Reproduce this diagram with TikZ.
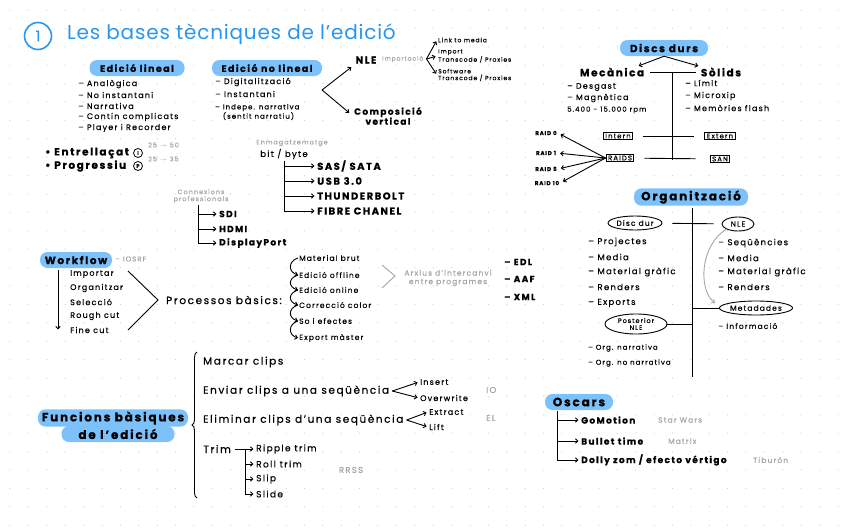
\documentclass[tikz,border=0pt]{standalone}
\usepackage{fontspec}
\setmainfont{Poppins}[LetterSpace=15, FakeBold=0.4]
\newfontfamily\titlefont{Poppins}[LetterSpace=4]
\usetikzlibrary{arrows.meta,shapes.geometric,positioning,decorations.pathreplacing}

\definecolor{titleblue}{RGB}{38,150,240}
\definecolor{pillblue}{RGB}{125,193,250}
\definecolor{notegray}{RGB}{165,165,165}
\definecolor{dotgray}{RGB}{205,205,205}

\tikzset{
  lbl/.style={inner sep=1pt, anchor=west, font=\fontsize{7}{7.5}\selectfont},
  lblm/.style={lbl, font=\fontsize{8.5}{9}\selectfont},
  lblb/.style={lbl, font=\bfseries\fontsize{9}{10}\selectfont},
  lbll/.style={lbl, font=\fontsize{10.5}{11}\selectfont},
  tinytxt/.style={lbl, align=left, font=\fontsize{6}{5.5}\selectfont},
  note/.style={inner sep=1pt, text=notegray, font=\fontsize{6.5}{7}\selectfont},
  pill/.style={fill=pillblue, rounded corners=7.5pt, inner sep=2pt, minimum height=16pt,
    font=\bfseries\fontsize{10.5}{11}\selectfont},
  circ/.style={draw, circle, line width=0.8pt, inner sep=0pt, minimum size=9pt,
    font=\bfseries\fontsize{5}{6}\selectfont},
  box/.style={draw, line width=1pt, inner xsep=2pt, inner ysep=1.5pt, font=\fontsize{7}{8}\selectfont},
  oval/.style={draw, ellipse, line width=0.9pt, inner sep=0pt, font=\fontsize{7.5}{8}\selectfont},
  ln/.style={line width=0.9pt},
  arr/.style={ln, shorten >=1.5pt, -{Straight Barb[length=2.5pt,width=4.5pt]}},
  grayarr/.style={draw=notegray, line width=0.9pt, -{Straight Barb[length=2.5pt,width=4.5pt]}},
}

\begin{document}
\begin{tikzpicture}[x=1pt,y=-1pt]
\useasboundingbox (0,0) rectangle (848,530);
% dotted paper
\foreach \i in {0,...,46}
  \foreach \j in {0,...,28}
    \fill[dotgray] (10+\i*18.4,10+\j*18.4) circle (0.6pt);

% title
\node[circ, draw=titleblue, line width=1.6pt, minimum size=27pt, text=titleblue,
  font=\fontsize{15}{15}\selectfont] (num) at (38,36) {1};
\node[anchor=west, inner sep=0pt, text=titleblue, font=\titlefont\fontsize{20}{21}\selectfont] (title) at (67,34) {Les bases tècniques de l’edició};

% edicio lineal
\node[pill, minimum width=95pt, font=\bfseries\fontsize{9.5}{10}\selectfont] (lineal) at (137,68) {Edició lineal};
\node[lbl, font=\fontsize{8}{8.5}\selectfont] (lin1) at (77,84) {– Analògica};
\node[lbl, font=\fontsize{8}{8.5}\selectfont] (lin2) at (77,95) {– No instantani};
\node[lbl, font=\fontsize{8}{8.5}\selectfont] (lin3) at (77,106) {– Narrativa};
\node[lbl, font=\fontsize{8}{8.5}\selectfont] (lin4) at (77,117) {– Contin complicats};
\node[lbl, font=\fontsize{8}{8.5}\selectfont] (lin5) at (77,128) {– Player i Recorder};

% edicio no lineal
\node[pill, minimum width=110pt, font=\bfseries\fontsize{9.5}{10}\selectfont] (nolineal) at (267,68) {Edició no lineal};
\node[lbl, font=\fontsize{8}{8.5}\selectfont] (nol1) at (214,82) {– Digitalització};
\node[lbl, font=\fontsize{8}{8.5}\selectfont] (nol2) at (214,94) {– Instantani};
\node[lbl, align=left, font=\fontsize{7}{7}\selectfont] (nol3) at (214,112) {– Indepe. narrativa\\\phantom{– }(sentit narratiu)};
\coordinate (chev) at (322,90);
\node[lblb, anchor=center, font=\bfseries\fontsize{10}{11}\selectfont] (nle) at (366,60) {NLE};
\node[lblb, anchor=center, align=center] (compo) at (388,116) {Composició\\vertical};
\draw[arr, shorten >=4pt] (chev) -- (nle.south west);
\draw[arr, shorten >=5pt] (chev) -- (compo.west);
\node[note, anchor=west, font=\fontsize{6}{7}\selectfont] (import) at (381,59) {Importació};
\coordinate (impfork) at ([xshift=2pt]import.east);
\node[tinytxt] (link) at (437,40) {Link to media};
\node[tinytxt] (imptr) at (437,56) {Import\\Transcode / Proxies};
\node[tinytxt] (softw) at (437,75) {Software\\Transcode / Proxies};
\draw[arr] (impfork) -- (link.west);
\draw[arr] (impfork) -- (imptr.west);
\draw[arr] (impfork) -- (softw.west);

% escaneig
\node[lblb, font=\bfseries\fontsize{10.5}{11}\selectfont] (entre) at (44,153) {• Entrellaçat};
\node[circ] (ci) at (138,153) {I};
\node[note, anchor=west] (entrenum) at (147,145) {25 $\to$ 50};
\node[lblb, font=\bfseries\fontsize{10.5}{11}\selectfont] (progr) at (44,166) {• Progressiu};
\node[circ] (cp) at (138,166) {P};
\node[note, anchor=west] (prognum) at (147,159) {25 $\to$ 35};

% emmagatzematge
\node[note] (emmag) at (292,143) {Enmagatzematge};
\node[lblm, anchor=center] (bitbyte) at (284,154) {bit / byte};
\coordinate (stor) at (284,161);
\node[lblb, font=\bfseries\fontsize{10}{11}\selectfont] (sas) at (316,166) {SAS/ SATA};
\node[lblb, font=\bfseries\fontsize{10}{11}\selectfont] (usb) at (316,181) {USB 3.0};
\node[lblb, font=\bfseries\fontsize{10}{11}\selectfont] (thund) at (316,196) {THUNDERBOLT};
\node[lblb, font=\bfseries\fontsize{10}{11}\selectfont] (fibre) at (316,211) {FIBRE CHANEL};
\draw[ln] (stor) -- (stor |- fibre.west);
\foreach \n in {sas,usb,thund,fibre}
  \draw[arr] (stor |- \n.west) -- (\n.west);

% connexions
\node[note, align=center] (connex) at (201,196) {Connexions\\professionals};
\coordinate (conn) at (198,205);
\node[lblb] (sdi) at (218,214) {SDI};
\node[lblb] (hdmi) at (218,229) {HDMI};
\node[lblb] (dport) at (218,243) {DisplayPort};
\draw[ln] (conn) -- (conn |- dport.west);
\foreach \n in {sdi,hdmi,dport}
  \draw[arr] (conn |- \n.west) -- (\n.west);

% workflow
\node[pill, minimum width=72pt] (workflow) at (76,260) {Workflow};
\node[note, anchor=west, font=\fontsize{7}{8}\selectfont] (iosrf) at (114,259) {– IOSRF};
\coordinate (wftop) at (58,270);
\coordinate (wfbot) at (58,331);
\draw[arr] (wftop) -- (wfbot);
\node[lbl, font=\fontsize{8}{9}\selectfont] (w1) at (69,274) {Importar};
\node[lbl, font=\fontsize{8}{9}\selectfont] (w2) at (69,288) {Organitzar};
\node[lbl, font=\fontsize{8}{9}\selectfont] (w3) at (69,302) {Selecció};
\node[lbl, font=\fontsize{8}{9}\selectfont] (w4) at (69,316) {Rough cut};
\node[lbl, font=\fontsize{8}{9}\selectfont] (w5) at (69,330) {Fine cut};
\coordinate (wfa) at (128,271);
\coordinate (wfapex) at (158,300);
\coordinate (wfb) at (128,330);
\draw[ln] (wfa) -- (wfapex) -- (wfb);
\node[lbll] (proc) at (165,300) {Processos bàsics:};

% processos
\node[lbl, font=\fontsize{7.5}{8}\selectfont] (p1) at (298,258) {Material brut};
\node[lbl, font=\fontsize{7.5}{8}\selectfont] (p2) at (298,275) {Edició offline};
\node[lbl, font=\fontsize{7.5}{8}\selectfont] (p3) at (298,290) {Edició online};
\node[lbl, font=\fontsize{7.5}{8}\selectfont] (p4) at (298,305) {Correcció color};
\node[lbl, font=\fontsize{7.5}{8}\selectfont] (p5) at (298,321) {So i efectes};
\node[lbl, font=\fontsize{7.5}{8}\selectfont] (p6) at (298,338) {Export màster};
\foreach \a/\b in {p1/p2,p2/p3,p3/p4,p4/p5,p5/p6}
  \draw[arr, shorten >=0pt] (\a.west) .. controls +(-10,3) and +(-10,-3) .. (\b.west);
\coordinate (gv1) at (382,265);
\coordinate (gv2) at (395,276);
\coordinate (gv3) at (382,288);
\draw[draw=notegray, line width=0.9pt] (gv1) -- (gv2) -- (gv3);
\node[note, align=center, font=\fontsize{7.5}{8.5}\selectfont] (arxius) at (448,278) {Arxius d’intercanvi\\entre programes};
\node[lblb] (edl) at (503,262) {– EDL};
\node[lblb] (aaf) at (503,279) {– AAF};
\node[lblb] (xml) at (503,297) {– XML};

% funcions basiques
\node[pill, minimum width=113pt, font=\bfseries\fontsize{12}{13}\selectfont] (func2) at (118,434) {de l’edició};
\node[pill, minimum width=150pt, font=\bfseries\fontsize{12}{13}\selectfont] (func1) at (113,418) {Funcions bàsiques};
\coordinate (brtop) at (197,352);
\coordinate (brbot) at (197,498);
\draw[ln, decorate, decoration={brace, amplitude=5pt}] (brbot) -- (brtop);
\node[lbll] (marcar) at (202,362) {Marcar clips};
\node[lbll] (enviar) at (202,391) {Enviar clips a una seqüència};
\node[lbll] (elimin) at (202,420) {Eliminar clips d’una seqüència};
\node[lbll] (trim) at (202,449) {Trim};
\node[lbl, font=\fontsize{8}{9}\selectfont] (insert) at (419,382) {Insert};
\node[lbl, font=\fontsize{8}{9}\selectfont] (overw) at (419,398) {Overwrite};
\coordinate (envfork) at ([xshift=2pt]enviar.east);
\draw[arr] (envfork) -- (insert.west);
\draw[arr] (envfork) -- (overw.west);
\node[note, anchor=west, font=\fontsize{8.5}{9}\selectfont] (io) at (485,390) {IO};
\node[lbl, font=\fontsize{8}{9}\selectfont] (extract) at (428,412) {Extract};
\node[lbl, font=\fontsize{8}{9}\selectfont] (lift) at (428,427) {Lift};
\coordinate (elfork) at ([xshift=2pt]elimin.east);
\draw[arr] (elfork) -- (extract.west);
\draw[arr] (elfork) -- (lift.west);
\node[note, anchor=west, font=\fontsize{8.5}{9}\selectfont] (el) at (485,418) {EL};
\node[lbl, font=\fontsize{9}{10}\selectfont] (ripple) at (255,449) {Ripple trim};
\node[lbl, font=\fontsize{9}{10}\selectfont] (roll) at (255,464) {Roll trim};
\node[lbl, font=\fontsize{9}{10}\selectfont] (slip) at (255,479) {Slip};
\node[lbl, font=\fontsize{9}{10}\selectfont] (slide) at (255,494) {Slide};
\draw[arr, shorten <=3pt] (trim.east) -- (ripple.west);
\coordinate (trimv) at (245,449);
\draw[ln] (trimv) -- (trimv |- slide.west);
\foreach \n in {roll,slip,slide}
  \draw[arr] (trimv |- \n.west) -- (\n.west);
\node[note, font=\fontsize{8.5}{9}\selectfont] (rrss) at (351,470) {RRSS};

% discs durs
\node[pill, minimum width=88pt] (discs) at (664,48) {Discs durs};
\node[lblb, anchor=center, font=\bfseries\fontsize{10.5}{11}\selectfont] (mec) at (612,72) {Mecànica};
\node[lblb, anchor=center, font=\bfseries\fontsize{10.5}{11}\selectfont] (sol) at (721,72) {Sòlids};
\draw[arr] (discs.south) -- ([xshift=-8pt]mec.north east);
\draw[arr] (discs.south) -- (sol.north west);
\draw[ln, shorten <=5pt, shorten >=4pt] (mec.east) -- (sol.west);
\coordinate (dtop) at (672,72);
\coordinate (dbot) at (672,160);
\draw[ln] (dtop) -- (dbot);
\node[lbl, font=\fontsize{8}{9}\selectfont] (mec1) at (566,87) {– Desgast};
\node[lbl, font=\fontsize{8}{9}\selectfont] (mec2) at (566,98) {– Magnètica};
\node[lbl, font=\fontsize{7}{8}\selectfont] (mec3) at (566,110) {5.400 - 15.000 rpm};
\node[lbl, font=\fontsize{8}{9}\selectfont] (sol1) at (684,83) {– Límit};
\node[lbl, font=\fontsize{8}{9}\selectfont] (sol2) at (684,96) {– Microxip};
\node[lbl, font=\fontsize{8}{9}\selectfont] (sol3) at (684,108) {– Memòries flash};
\node[box] (intern) at (618,136) {Intern};
\node[box] (extern) at (720,136) {Extern};
\node[box] (raids) at (620,158) {RAIDS};
\node[box] (san) at (720,159) {SAN};
\draw[ln, shorten <=10pt, shorten >=10pt] (intern) -- (extern);
\draw[ln, shorten <=10pt, shorten >=14pt] (raids) -- (san);
\node[lbl, anchor=center, font=\bfseries\fontsize{5.5}{6}\selectfont] (raid0) at (546,133) {RAID 0};
\node[lbl, anchor=center, font=\bfseries\fontsize{5.5}{6}\selectfont] (raid1) at (546,153) {RAID 1};
\node[lbl, anchor=center, font=\bfseries\fontsize{5.5}{6}\selectfont] (raid5) at (546,169) {RAID 5};
\node[lbl, anchor=center, font=\bfseries\fontsize{5.5}{6}\selectfont] (raid10) at (547,183) {RAID 10};
\foreach \n in {raid0,raid1,raid5,raid10}
  \draw[arr, shorten >=3pt] (raids.west) -- (\n.east);

% organitzacio
\node[pill, minimum width=114pt, font=\bfseries\fontsize{12}{13}\selectfont] (org) at (691,197) {Organització};
\coordinate (otop) at (692,208);
\coordinate (obot) at (692,377);
\draw[ln] (otop) -- (obot);
\node[oval, minimum width=54pt, minimum height=14pt] (discdur) at (635,223) {Disc dur};
\node[oval, minimum width=32pt, minimum height=14pt] (nleo) at (738,224) {NLE};
\draw[ln, shorten <=10pt, shorten >=8pt] (discdur) -- (nleo);
\node[lblm] (o1) at (587,242) {– Projectes};
\node[lblm] (o2) at (587,257) {– Media};
\node[lblm] (o3) at (587,272) {– Material gràfic};
\node[lblm] (o4) at (587,287) {– Renders};
\node[lblm] (o5) at (587,303) {– Exports};
\node[oval, align=center, minimum width=62pt, minimum height=20pt, font=\fontsize{6.5}{7}\selectfont] (postnle) at (636,324) {Posterior\\NLE};
\draw[ln] (postnle.east) -- (postnle.east -| otop);
\node[lbl] (o6) at (587,348) {– Org. narrativa};
\node[lbl] (o7) at (587,363) {– Org. no narrativa};
\node[lblm] (n1) at (717,243) {– Seqüències};
\node[lblm] (n2) at (717,258) {– Media};
\node[lblm] (n3) at (717,272) {– Material gràfic};
\node[lblm] (n4) at (717,287) {– Renders};
\node[oval, minimum width=65pt, minimum height=14pt] (meta) at (756,308) {Metadades};
\draw[ln] (meta.west -| otop) -- (meta.west);
\node[lbl, font=\fontsize{7.5}{8}\selectfont] (n5) at (717,326) {– Informació};
\draw[grayarr] (nleo.south west) .. controls (700,245) and (698,290) .. ([shift={(-4pt,5pt)}]meta.west);

% oscars
\node[pill, minimum width=68pt, font=\bfseries\fontsize{12}{13}\selectfont] (oscars) at (579,402) {Oscars};
\coordinate (osc) at (557,411);
\node[lblb, font=\bfseries\fontsize{9}{10}\selectfont] (gomot) at (580,420) {GoMotion};
\node[lblb, font=\bfseries\fontsize{9}{10}\selectfont] (bullet) at (580,441) {Bullet time};
\node[lblb, font=\bfseries\fontsize{9}{10}\selectfont] (dolly) at (580,460) {Dolly zom / efecto vértigo};
\draw[ln] (osc) -- (osc |- dolly.west);
\foreach \n in {gomot,bullet,dolly}
  \draw[arr] (osc |- \n.west) -- (\n.west);
\node[note, anchor=west, font=\fontsize{7.5}{8}\selectfont] (starw) at (657,420) {Star Wars};
\node[note, anchor=west, font=\fontsize{7.5}{8}\selectfont] (matrix) at (667,441) {Matrix};
\node[note, anchor=west, font=\fontsize{7.5}{8}\selectfont] (tibur) at (752,460) {Tiburón};
\end{tikzpicture}
\end{document}
